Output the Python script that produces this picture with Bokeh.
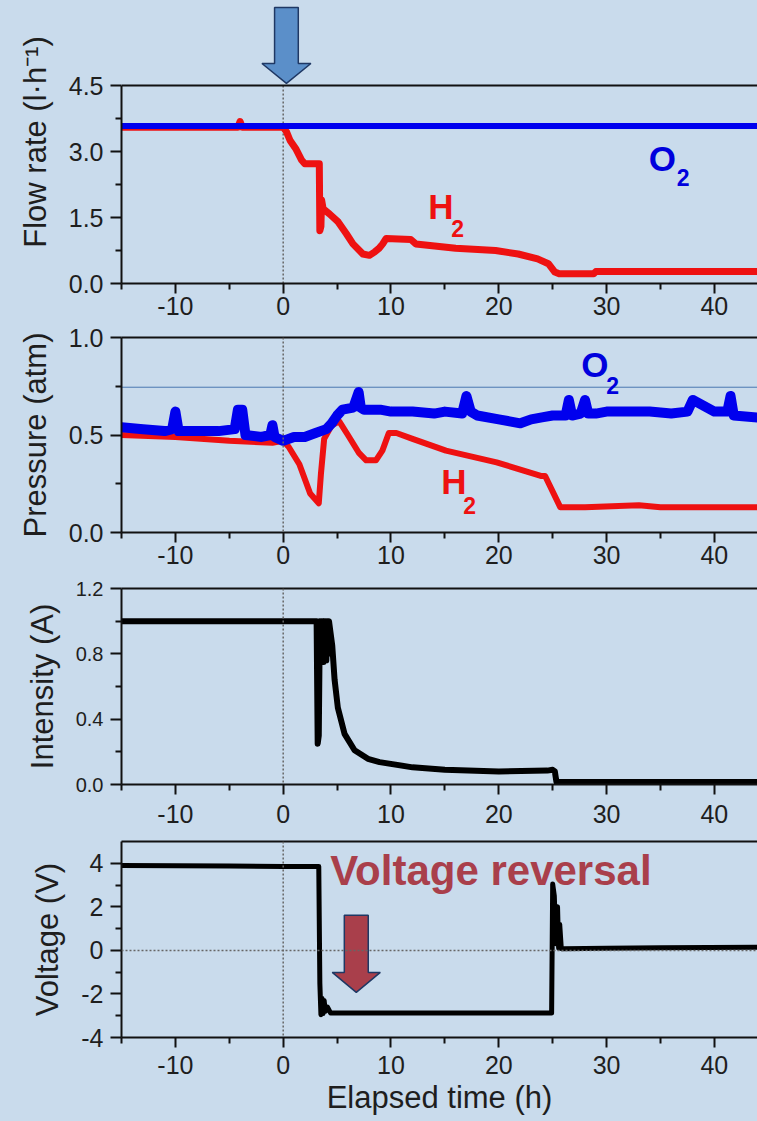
from bokeh.plotting import figure
from bokeh.layouts import column
from bokeh.models import FixedTicker, PrintfTickFormatter, LinearAxis, Span, Range1d
from bokeh.core.properties import value
from bokeh.embed import file_html
from bokeh.resources import INLINE

# ---------------- data ----------------
x_ticks = [-10, 0, 10, 20, 30, 40]
x_minor = [-15, -5, 5, 15, 25, 35]

# Flow rate (l/h)
flow_o2_t = [-15, 44]
flow_o2 = [3.58, 3.58]
flow_h2_t = [-15, -4.2, -4.0, -3.8, 0.0, 0.3, 0.64, 1.2, 1.72, 2.0, 3.35, 3.4, 3.5, 3.56, 3.7,
             4.3, 5.1, 5.86, 6.47, 7.39, 8.0, 8.5, 8.9, 9.23, 9.54, 11.84, 12.3, 16.0, 19.7,
             21.8, 23.6, 24.6, 25.2, 25.6, 28.8, 29.0, 44]
flow_h2 = [3.55, 3.55, 3.68, 3.55, 3.55, 3.45, 3.25, 3.05, 2.8, 2.72, 2.72, 1.2, 1.3, 1.9, 1.7,
           1.58, 1.4, 1.13, 0.9, 0.67, 0.64, 0.72, 0.8, 0.9, 1.02, 1.0, 0.9, 0.8, 0.75,
           0.67, 0.56, 0.45, 0.26, 0.22, 0.22, 0.27, 0.27]

# Pressure (atm)
press_o2_t = [-15, -13, -11, -10.3, -10, -9.7, -8, -6, -4.5, -4.2, -3.8, -3.5, -2, -1.2, -1, -0.8,
              0, 1, 2, 3, 4, 4.5, 5.0, 5.5, 6.5, 7.0, 7.2, 7.5, 9, 10, 12, 14, 15, 16.6, 17, 17.4,
              18, 20, 21, 22, 23, 24, 25, 26.2, 26.5, 26.8, 27.6, 28, 28.3, 29, 30, 32, 34, 36,
              37.5, 38, 40, 41.2, 41.5, 41.8, 44]
press_o2 = [0.54, 0.53, 0.52, 0.53, 0.62, 0.52, 0.52, 0.52, 0.53, 0.63, 0.63, 0.50, 0.49, 0.50, 0.55, 0.49,
            0.47, 0.49, 0.49, 0.51, 0.53, 0.56, 0.60, 0.63, 0.64, 0.72, 0.64, 0.63, 0.63, 0.62, 0.62, 0.61,
            0.62, 0.61, 0.70, 0.62, 0.60, 0.58, 0.57, 0.56, 0.58, 0.59, 0.60, 0.60, 0.68, 0.60, 0.61, 0.68,
            0.61, 0.61, 0.62, 0.62, 0.62, 0.61, 0.62, 0.68, 0.62, 0.62, 0.70, 0.60, 0.59]
press_h2_t = [-15, -10, -5, -1, 0, 0.5, 1.5, 2.5, 3.3, 3.5, 3.8, 4.5, 5.2, 6.0, 7.0, 7.7, 8.6, 9.2,
              9.8, 10.5, 12, 15.1, 19.8, 23.9, 24.3, 25.7, 28, 33, 35, 44]
press_h2 = [0.50, 0.49, 0.47, 0.46, 0.47, 0.44, 0.35, 0.20, 0.15, 0.30, 0.48, 0.55, 0.57, 0.50, 0.41,
            0.37, 0.37, 0.42, 0.51, 0.51, 0.48, 0.42, 0.36, 0.29, 0.29, 0.13, 0.13, 0.14, 0.13, 0.13]

# Intensity (A)
curr_t = [-15, 3.1, 3.2, 3.3, 3.4, 3.5, 3.55, 3.6, 3.7, 3.75, 3.8, 3.9, 3.95, 4.0, 4.1, 4.15, 4.25,
          4.35, 4.55, 4.77, 5.07, 5.69, 6.62, 7.86, 8.94, 12, 15, 20, 24.5, 25.0, 25.2, 25.35, 44]
curr = [1.0, 1.0, 0.25, 0.30, 1.0, 0.75, 1.0, 0.80, 1.0, 0.75, 1.0, 0.80, 1.0, 0.76, 1.0, 0.80, 1.0,
        0.95, 0.85, 0.64, 0.47, 0.31, 0.21, 0.157, 0.137, 0.105, 0.09, 0.08, 0.085, 0.09, 0.08, 0.015, 0.015]

# Voltage (V)
volt_t = [-15, -5, 0, 2.5, 3.3, 3.4, 3.5, 3.6, 3.7, 3.8, 3.9, 4.1, 4.4, 10, 20, 24.9, 25.0, 25.15,
          25.3, 25.45, 25.55, 25.65, 25.8, 26.0, 30, 35, 44]
volt = [3.9, 3.88, 3.85, 3.85, 3.85, -1.5, -2.95, -2.2, -2.9, -2.3, -2.8, -2.6, -2.88, -2.88, -2.88,
        -2.88, 3.05, 2.5, 0.3, 2.0, 0.1, 1.2, 0.08, 0.08, 0.1, 0.12, 0.15]

assert len(flow_h2_t) == len(flow_h2)
assert len(press_o2_t) == len(press_o2)
assert len(press_h2_t) == len(press_h2)
assert len(curr_t) == len(curr)
assert len(volt_t) == len(volt)

# ---------------- styling ----------------
BG = "#c9dbec"
FONT = "Liberation Sans"
X_START, X_END = -15.0, 44.0
W = 757
FRAME_LEFT = 121
RED = "#ee1111"
BLUE = "#0000ee"
AX = "#111111"
TXT = "#1e1e1e"


def style_axis(ax, size):
    ax.axis_line_width = 2
    ax.axis_line_color = AX
    ax.major_tick_line_width = 2
    ax.minor_tick_line_width = 2
    ax.major_tick_line_color = AX
    ax.minor_tick_line_color = AX
    ax.major_tick_in = 0
    ax.major_tick_out = 10
    ax.minor_tick_in = 0
    ax.minor_tick_out = 6
    ax.major_label_text_font = FONT
    ax.major_label_text_font_size = size
    ax.major_label_text_color = TXT
    ax.axis_label_text_font = FONT
    ax.axis_label_text_font_size = "31px"
    ax.axis_label_text_font_style = "normal"
    ax.axis_label_text_color = TXT


def make_panel(height, top, bottom, y_start, y_end, yticks, yminor, ylabel, yfmt,
               ysize="25px", ybounds="auto", xlabel=None, top_axis=True, xstand=3):
    p = figure(width=W, height=height, x_range=Range1d(X_START, X_END),
               y_range=Range1d(y_start, y_end), output_backend="svg", toolbar_location=None,
               min_border_left=FRAME_LEFT, min_border_right=0,
               min_border_top=top, min_border_bottom=bottom)
    p.background_fill_color = BG
    p.border_fill_color = BG
    p.outline_line_color = None
    p.xgrid.visible = False
    p.ygrid.visible = False

    xa = p.xaxis[0]
    xa.ticker = FixedTicker(ticks=x_ticks, minor_ticks=x_minor)
    xa.formatter = PrintfTickFormatter(format="%d")
    style_axis(xa, "25px")
    xa.major_label_standoff = xstand
    if xlabel:
        xa.axis_label = xlabel
        xa.axis_label_standoff = 3

    ya = p.yaxis[0]
    ya.ticker = FixedTicker(ticks=yticks, minor_ticks=yminor)
    ya.formatter = PrintfTickFormatter(format=yfmt)
    style_axis(ya, ysize)
    ya.major_tick_out = 11
    ya.major_label_standoff = 7
    ya.axis_label = ylabel
    ya.axis_label_standoff = 13
    ya.bounds = ybounds

    if top_axis:
        ta = LinearAxis(ticker=FixedTicker(ticks=[]), axis_line_width=2, axis_line_color=AX,
                        major_tick_line_color=None, minor_tick_line_color=None,
                        major_label_text_font_size="0px")
        p.add_layout(ta, "above")
    return p


def arrow(p, xc, shaft_half, head_half, y_top, y_head, y_tip, fill):
    xs = [xc - shaft_half, xc + shaft_half, xc + shaft_half, xc + head_half, xc,
          xc - head_half, xc - shaft_half]
    ys = [y_top, y_top, y_head, y_head, y_tip, y_head, y_head]
    p.patch(xs, ys, fill_color=fill, line_color="#1f3864", line_width=1.5)


def label(p, x, y, txt, size, color, bold=True):
    p.text(x=[x], y=[y], text=[txt], text_font=value(FONT), text_font_size=size,
           text_font_style="bold" if bold else "normal", text_color=color,
           text_align="left", text_baseline="middle")


dot = dict(line_color="#666666", line_dash="2 2", line_width=1.5)

# ---- panel 1: flow rate (frame extended upward to hold the marker arrow) ----
f1_frame = 283
p1 = make_panel(f1_frame + 41, 0, 41, 0, f1_frame / 44.0, [0, 1.5, 3.0, 4.5], [0.75, 2.25, 3.75],
                "Flow rate (l·h⁻¹)", "%.1f", ybounds=(0, 4.5), top_axis=False, xstand=3)
p1.add_layout(Span(location=4.5, dimension="width", line_color=AX, line_width=2))
p1.segment(x0=[0], y0=[0], x1=[0], y1=[4.5], **dot)
p1.line(flow_h2_t, flow_h2, line_color=RED, line_width=7, line_join="round")
p1.line(flow_o2_t, flow_o2, line_color=BLUE, line_width=6)
arrow(p1, 0.3, 1.1, 2.27, 6.27, 5.0, 4.55, "#5b8fc9")
label(p1, 33.9, 2.85, "O", "35px", "#0000dd")
label(p1, 36.5, 2.42, "2", "23px", "#0000dd")
label(p1, 13.46, 1.75, "H", "35px", RED)
label(p1, 15.6, 1.26, "2", "23px", RED)

# ---- panel 2: pressure ----  (324 -> 573)
p2 = make_panel(249, 13, 41, 0, 1.0, [0, 0.5, 1.0], [0.25, 0.75], "Pressure (atm)", "%.1f", xstand=3)
p2.add_layout(Span(location=0.745, dimension="width", line_color="#4a78b0", line_width=1,
                   level="underlay"))
p2.add_layout(Span(location=0, dimension="height", **dot))
p2.line(press_h2_t, press_h2, line_color=RED, line_width=6, line_join="round")
p2.line(press_o2_t, press_o2, line_color=BLUE, line_width=10, line_join="round")
label(p2, 27.66, 0.864, "O", "35px", "#0000dd")
label(p2, 29.98, 0.754, "2", "23px", "#0000dd")
label(p2, 14.66, 0.262, "H", "35px", RED)
label(p2, 16.7, 0.141, "2", "23px", RED)

# ---- panel 3: intensity ----  (573 -> 834)
p3 = make_panel(261, 15, 50, 0, 1.2, [0, 0.4, 0.8, 1.2], [0.2, 0.6, 1.0], "Intensity (A)", "%.1f",
                ysize="20px", xstand=10)
p3.add_layout(Span(location=0, dimension="height", **dot))
p3.line(curr_t, curr, line_color="black", line_width=6, line_join="round")

# ---- panel 4: voltage ----  (834 -> 1121)
p4 = make_panel(287, 7, 84, -4, 5, [-4, -2, 0, 2, 4], [-3, -1, 1, 3], "Voltage (V)", "%d",
                xlabel="Elapsed time (h)", xstand=8)
p4.add_layout(Span(location=0, dimension="height", **dot))
p4.add_layout(Span(location=0, dimension="width", **dot))
p4.line(volt_t, volt, line_color="black", line_width=5, line_join="round")
label(p4, 4.36, 3.68, "Voltage reversal", "42px", "#a93f4b")
arrow(p4, 6.78, 1.11, 2.23, 1.61, -1.01, -1.93, "#a93f4b")

layout = column(p1, p2, p3, p4)

html = file_html(layout, INLINE, title="Voltage reversal")
html = html.replace("</head>", "<style>html, body { background: #c9dbec; }</style></head>", 1)
open("out.html", "w").write(html)
